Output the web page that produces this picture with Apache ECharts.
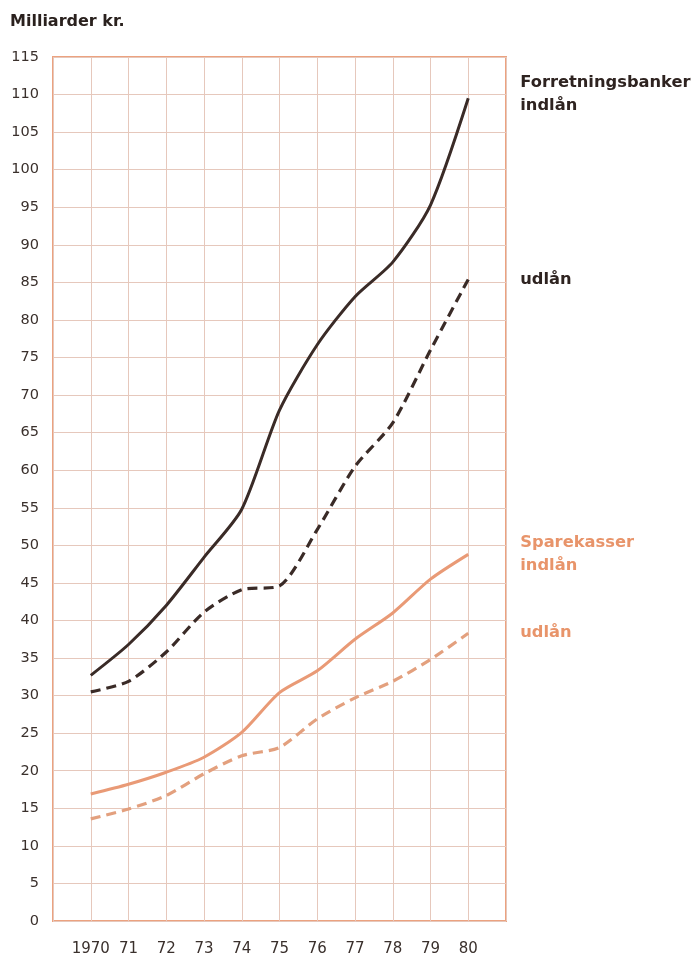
<!DOCTYPE html>
<html>
<head>
<meta charset="utf-8">
<script src="https://cdn.jsdelivr.net/npm/echarts@6/dist/echarts.min.js"></script>
<style>
  html, body { margin: 0; padding: 0; background: #fff; }
  #chart { width: 696px; height: 957px; }
</style>
</head>
<body>
<div id="chart"></div>
<script>
// år og værdier (milliarder kr.)
const years = [1970, 1971, 1972, 1973, 1974, 1975, 1976, 1977, 1978, 1979, 1980]
const yearLabels = ['1970', '71', '72', '73', '74', '75', '76', '77', '78', '79', '80']
const fbIndlaan = [32.7, 36.8, 42.0, 48.4, 54.8, 68.0, 76.7, 83.1, 87.7, 95.3, 109.5]
const fbUdlaan = [30.5, 31.9, 35.8, 41.1, 44.1, 44.6, 52.1, 60.5, 66.3, 76.0, 85.4]
const skIndlaan = [16.9, 18.2, 19.8, 21.8, 25.1, 30.4, 33.3, 37.5, 41.0, 45.5, 48.8]
const skUdlaan = [13.6, 14.9, 16.7, 19.6, 22.0, 23.1, 26.9, 29.7, 31.9, 34.8, 38.3]

const dark = '#3a2b27'
const orange = '#e99a76'
const gridColor = '#e6c8bc'

const pairs = vals => years.map((y, i) => [y, vals[i]])

const chart = echarts.init(document.getElementById('chart'))

const lineSeries = (name, vals, color, dashed, label, offset) => ({
  name: name,
  type: 'line',
  data: pairs(vals),
  smooth: 0.25,
  symbol: 'none',
  lineStyle: { color: color, width: dashed ? 3.2 : 3, type: dashed ? [10, 6] : 'solid' },
  endLabel: {
    show: true,
    formatter: label,
    distance: 52,
    offset: offset || [0, 0],
    align: 'left',
    color: color === dark ? '#2e2320' : '#e8946a',
    fontFamily: 'DejaVu Sans',
    fontWeight: 'bold',
    fontSize: 16.3,
    lineHeight: 23
  }
})

const option = {
  animation: false,
  title: {
    text: 'Milliarder kr.',
    left: 5,
    top: 9,
    textStyle: { fontFamily: 'DejaVu Sans', fontWeight: 'bold', fontSize: 16, color: '#2a211e' }
  },
  grid: {
    left: 53,
    right: 190,
    top: 57,
    bottom: 35,
    show: true,
    borderColor: '#eca27f',
    borderWidth: 2
  },
  xAxis: {
    type: 'value',
    min: 1969,
    max: 1981,
    interval: 1,
    axisLine: { show: false },
    axisTick: { show: false },
    splitLine: { show: true, lineStyle: { color: gridColor, width: 1 } },
    axisLabel: {
      margin: 21,
      showMinLabel: false,
      showMaxLabel: false,
      fontFamily: 'DejaVu Sans',
      fontSize: 15,
      color: '#3a302c',
      formatter: v => {
        const i = years.indexOf(v)
        return i >= 0 ? yearLabels[i] : ''
      }
    }
  },
  yAxis: {
    type: 'value',
    min: 0,
    max: 115,
    interval: 5,
    axisLine: { show: false },
    axisTick: { show: false },
    splitLine: { show: true, lineStyle: { color: gridColor, width: 1 } },
    axisLabel: {
      margin: 14,
      fontFamily: 'DejaVu Sans',
      fontSize: 14.5,
      color: '#3a302c'
    }
  },
  series: [
    lineSeries('Forretningsbanker indlån', fbIndlaan, dark, false, 'Forretningsbanker\nindlån', [0, -4]),
    lineSeries('Forretningsbanker udlån', fbUdlaan, dark, true, 'udlån'),
    lineSeries('Sparekasser indlån', skIndlaan, orange, false, 'Sparekasser\nindlån'),
    lineSeries('Sparekasser udlån', skUdlaan, '#e3a07e', true, 'udlån')
  ]
}

chart.setOption(option)
window.addEventListener('resize', () => chart.resize())
</script>
</body>
</html>
